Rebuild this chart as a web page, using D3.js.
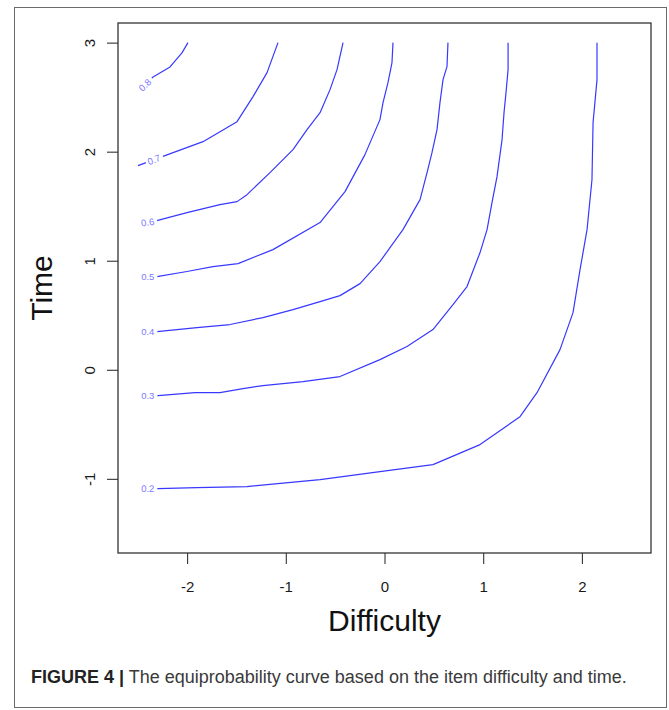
<!DOCTYPE html>
<html>
<head>
<meta charset="utf-8">
<script src="https://cdn.jsdelivr.net/npm/d3@7"></script>
<style>
  body { margin: 0; background: #fff; }
  svg { display: block; font-family: "Liberation Sans", Arial, sans-serif; }
</style>
</head>
<body>
<svg id="chart" width="669" height="710"></svg>
<script>
// Probability levels of the equiprobability contours
const levels = [0.2, 0.3, 0.4, 0.5, 0.6, 0.7, 0.8];

// Contour traces: difficulty (x) and time (y) for each level
const difficulty02 = [-2.5, -2.295, -1.90, -1.393, -0.653, -0.046, 0.491, 0.968, 1.373, 1.545, 1.778, 1.910, 1.981, 2.052, 2.102, 2.113, 2.153, 2.153];
const time02       = [-1.09, -1.089, -1.080, -1.071, -1.007, -0.934, -0.870, -0.686, -0.430, -0.210, 0.185, 0.524, 0.918, 1.285, 1.743, 2.266, 2.661, 3.0];

const difficulty03 = [-2.5, -2.295, -1.920, -1.667, -1.434, -1.231, -0.826, -0.451, -0.046, 0.228, 0.491, 0.694, 0.836, 0.968, 1.039, 1.089, 1.140, 1.191, 1.211, 1.231, 1.252, 1.252];
const time03       = [-0.237, -0.237, -0.209, -0.209, -0.172, -0.145, -0.108, -0.062, 0.093, 0.213, 0.369, 0.598, 0.763, 1.075, 1.285, 1.533, 1.771, 2.111, 2.358, 2.542, 2.752, 3.0];

const difficulty04 = [-2.5, -2.305, -1.900, -1.565, -1.231, -0.927, -0.653, -0.451, -0.248, -0.046, 0.187, 0.360, 0.431, 0.481, 0.532, 0.562, 0.593, 0.633, 0.643];
const time04       = [0.350, 0.350, 0.387, 0.415, 0.479, 0.552, 0.625, 0.680, 0.790, 0.992, 1.285, 1.560, 1.808, 1.991, 2.202, 2.450, 2.661, 2.780, 3.0];

const difficulty05 = [-2.5, -2.305, -2.001, -1.738, -1.484, -1.130, -0.653, -0.400, -0.198, -0.046, -0.015, 0.035, 0.076, 0.086];
const time05       = [0.855, 0.855, 0.901, 0.946, 0.974, 1.102, 1.350, 1.634, 1.973, 2.294, 2.450, 2.633, 2.817, 3.0];

const difficulty06 = [-2.5, -2.345, -2.001, -1.667, -1.494, -1.393, -1.160, -0.927, -0.785, -0.653, -0.552, -0.481, -0.420];
const time06       = [1.340, 1.359, 1.441, 1.515, 1.542, 1.606, 1.808, 2.019, 2.202, 2.358, 2.569, 2.752, 3.0];

const difficulty07 = [-2.497, -2.224, -1.839, -1.494, -1.332, -1.190, -1.079];
const time07       = [1.872, 1.964, 2.092, 2.275, 2.505, 2.725, 3.0];

const difficulty08 = [-2.5, -2.345, -2.173, -2.052, -1.991];
const time08       = [2.548, 2.685, 2.777, 2.906, 3.0];

const xTicks = [-2, -1, 0, 1, 2];
const yTicks = [-1, 0, 1, 2, 3];

const xTitle = "Difficulty";
const yTitle = "Time";
const captionLead = "FIGURE 4 |";
const captionText = " The equiprobability curve based on the item difficulty and time.";

const traces = [
  [difficulty02, time02], [difficulty03, time03], [difficulty04, time04],
  [difficulty05, time05], [difficulty06, time06], [difficulty07, time07],
  [difficulty08, time08]
];
const contours = levels.map((lv, i) => ({
  level: lv,
  points: traces[i][0].map((d, j) => [d, traces[i][1][j]])
}));

const svg = d3.select("#chart");
const plot = { left: 118, right: 651, top: 23, bottom: 553 };

const x = d3.scaleLinear().domain([-2.7, 2.7]).range([plot.left, plot.right]);
const y = d3.scaleLinear().domain([-1.68, 3.18]).range([plot.bottom, plot.top]);

// Plain hyphen-minus tick labels
const tickFmt = d => String(d);

// Outer figure frame
svg.append("rect")
  .attr("x", 14.5).attr("y", 7.5)
  .attr("width", 652).attr("height", 700)
  .attr("fill", "none").attr("stroke", "#6a6a6a").attr("stroke-width", 1);

// Clip region for the contour lines
svg.append("defs").append("clipPath").attr("id", "plotClip")
  .append("rect")
  .attr("x", plot.left).attr("y", plot.top)
  .attr("width", plot.right - plot.left).attr("height", plot.bottom - plot.top);

// Bottom axis
const xAxis = svg.append("g")
  .attr("transform", `translate(0,${plot.bottom})`)
  .call(d3.axisBottom(x).tickValues(xTicks).tickSize(11).tickPadding(17).tickFormat(tickFmt));
xAxis.select(".domain").remove();
xAxis.selectAll(".tick line").attr("stroke", "#333").attr("stroke-width", 1.1);
xAxis.selectAll(".tick text")
  .attr("fill", "#1a1a1a").style("font-size", "15px")
  .style("font-family", "'Liberation Sans', Arial, sans-serif");

// Left axis with labels turned parallel to the axis
const yAxis = svg.append("g")
  .attr("transform", `translate(${plot.left},0)`)
  .call(d3.axisLeft(y).tickValues(yTicks).tickSize(11).tickFormat(tickFmt));
yAxis.select(".domain").remove();
yAxis.selectAll(".tick line").attr("stroke", "#333").attr("stroke-width", 1.1);
yAxis.selectAll(".tick text")
  .attr("x", null).attr("dy", null)
  .attr("text-anchor", "middle")
  .attr("transform", "translate(-23,0) rotate(-90)")
  .attr("fill", "#1a1a1a").style("font-size", "15px")
  .style("font-family", "'Liberation Sans', Arial, sans-serif");

// Plot box
svg.append("rect")
  .attr("x", plot.left).attr("y", plot.top)
  .attr("width", plot.right - plot.left).attr("height", plot.bottom - plot.top)
  .attr("fill", "none").attr("stroke", "#333").attr("stroke-width", 1.3);

// Contour lines
const line = d3.line().x(d => x(d[0])).y(d => y(d[1]));
const lineG = svg.append("g").attr("clip-path", "url(#plotClip)");
const paths = lineG.selectAll("path")
  .data(contours)
  .join("path")
  .attr("d", d => line(d.points))
  .attr("fill", "none")
  .attr("stroke", "#3838ff")
  .attr("stroke-width", 1.2)
  .attr("stroke-linejoin", "round");

// Inline contour labels, set along the start of each line (the line is cut under them)
const labelG = svg.append("g");
paths.each(function (d) {
  const node = this;
  const total = node.getTotalLength();
  const at = Math.min(d.level === 0.7 ? 17 : 10, total / 2);
  const p = node.getPointAtLength(at);
  const a = node.getPointAtLength(Math.max(0, at - 6));
  const b = node.getPointAtLength(Math.min(total, at + 6));
  const angle = Math.atan2(b.y - a.y, b.x - a.x) * 180 / Math.PI;
  const g = labelG.append("g").attr("transform", `translate(${p.x},${p.y}) rotate(${angle})`);
  const bg = g.append("rect").attr("fill", "#fff");
  const t = g.append("text")
    .attr("text-anchor", "middle")
    .attr("dy", "0.35em")
    .attr("fill", "#7a7aff")
    .style("font-size", "9.5px")
    .text(String(d.level));
  const w = t.node().getComputedTextLength();
  const padL = d.level === 0.7 ? 2 : 6;
  bg.attr("x", -w / 2 - padL).attr("y", -4).attr("width", w + padL + 3).attr("height", 8);
});

// Axis titles
svg.append("text")
  .attr("x", (plot.left + plot.right) / 2).attr("y", 631)
  .attr("text-anchor", "middle")
  .attr("fill", "#111").style("font-size", "30px")
  .text(xTitle);

svg.append("text")
  .attr("transform", `translate(52,${(plot.top + plot.bottom) / 2}) rotate(-90)`)
  .attr("text-anchor", "middle")
  .attr("fill", "#111").style("font-size", "30px")
  .text(yTitle);

// Caption
const cap = svg.append("text")
  .attr("x", 31).attr("y", 683)
  .style("font-size", "16px");
cap.append("tspan").attr("font-weight", "bold").attr("fill", "#222").text(captionLead);
cap.append("tspan").attr("fill", "#3a3a3a").text(captionText);
const capW = cap.node().getComputedTextLength();
const targetW = 596;
cap.style("font-size", (16 * targetW / capW).toFixed(2) + "px");
</script>
</body>
</html>
